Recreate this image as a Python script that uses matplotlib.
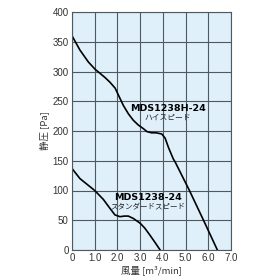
import matplotlib
matplotlib.use("Agg")
import matplotlib.pyplot as plt

# High speed curve (MDS1238H-24)
high_x = [0.0, 0.35, 0.72, 1.01, 1.23, 1.45, 1.67, 1.9, 2.11, 2.26, 2.48, 2.70, 2.92, 3.14, 3.3, 3.5, 3.7, 3.95, 4.1, 4.25, 4.46, 4.54, 5.17, 5.79, 6.4]
high_y = [360, 336, 316, 304, 297, 290, 282, 272, 255, 243, 229, 218, 210, 204, 199, 197, 197, 195, 188, 172, 153, 148, 100, 50, 0]

# Standard speed curve (MDS1238-24)
low_x = [0.0, 0.35, 1.0, 1.38, 1.67, 1.89, 2.11, 2.3, 2.48, 2.7, 3.0, 3.2, 3.43, 3.65, 3.88]
low_y = [137, 120, 100, 85, 70, 59, 56, 57, 57, 53, 45, 37, 25, 13, 0]

x_ticks = [0, 1, 2, 3, 4, 5, 6, 7]
x_tick_labels = ["0", "1.0", "2.0", "3.0", "4.0", "5.0", "6.0", "7.0"]
y_ticks = [0, 50, 100, 150, 200, 250, 300, 350, 400]
y_tick_labels = ["0", "50", "100", "150", "200", "250", "300", "350", "400"]

fig = plt.figure(figsize=(2.8, 2.8), dpi=100)
ax = fig.add_axes([72/280, 30/280, 159/280, 238/280])
ax.set_facecolor("#dff0fa")
ax.set_xlim(0, 7)
ax.set_ylim(0, 400)
ax.set_xticks(x_ticks)
ax.set_xticklabels(x_tick_labels)
ax.set_yticks(y_ticks)
ax.set_yticklabels(y_tick_labels)
ax.grid(True, color="#505860", linewidth=0.8)
ax.set_axisbelow(True)
for s in ax.spines.values():
    s.set_color("#505860")
    s.set_linewidth(0.8)
ax.tick_params(length=0, pad=2.5, labelsize=7, colors="#333333")
for lab in ax.get_xticklabels() + ax.get_yticklabels():
    lab.set_family("Liberation Sans")

ax.plot(high_x, high_y, color="black", linewidth=1.2)
ax.plot(low_x, low_y, color="black", linewidth=1.2)

jp = ["Noto Sans CJK JP", "DejaVu Sans"]
ax.text(4.23, 238, "MDS1238H-24", ha="center", va="center", fontsize=6.8,
        fontweight="bold", family="DejaVu Sans", color="black")
ax.text(4.23, 222, "ハイスピード", ha="center", va="center", fontsize=5.6,
        family=jp, color="#222222")
ax.text(3.35, 88, "MDS1238-24", ha="center", va="center", fontsize=6.8,
        fontweight="bold", family="DejaVu Sans", color="black")
ax.text(3.35, 72, "スタンダードスピード", ha="center", va="center", fontsize=5.4,
        family=jp, color="#222222")

ax.set_xlabel("風量 [m³/min]", family=jp, fontsize=6.8,
              color="#333333", labelpad=1)
ax.set_ylabel("静圧 [Pa]", family=jp, fontsize=6.8,
              color="#333333", labelpad=2)

fig.savefig("out.png", dpi=100)
